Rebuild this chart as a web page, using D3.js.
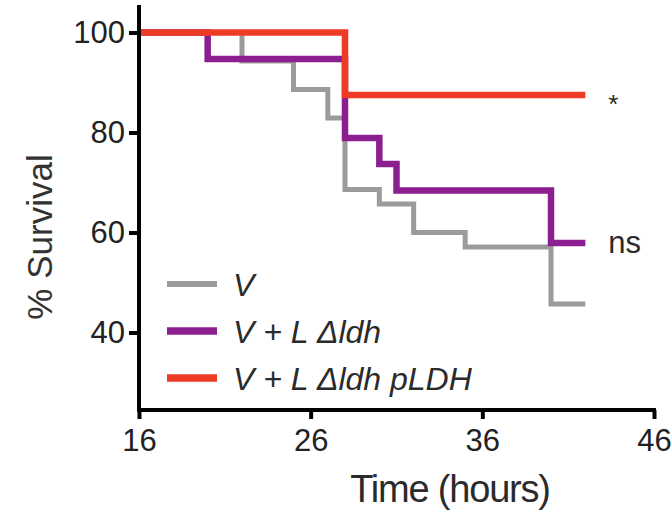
<!DOCTYPE html>
<html>
<head>
<meta charset="utf-8">
<script src="https://cdn.jsdelivr.net/npm/d3@7"></script>
<style>
  html, body { margin: 0; padding: 0; background: #fff; }
  svg { display: block; font-family: "Liberation Sans", Arial, Helvetica, sans-serif; }
</style>
</head>
<body>
<svg id="chart" width="671" height="516"></svg>
<script>
// Kaplan–Meier survival steps (time in hours, % surviving)
const timesV = [16, 22, 25, 27, 28, 30, 32, 35, 40, 42];
const survV  = [100, 94.3, 88.6, 82.9, 68.6, 65.7, 60.0, 57.1, 45.7, 45.7];

const timesVL = [16, 20, 28, 30, 31, 40, 42];
const survVL  = [100, 94.7, 78.9, 73.7, 68.4, 57.9, 57.9];

const timesVLp = [16, 28, 42];
const survVLp  = [100, 87.5, 87.5];

const seriesNames = ["V", "V + L \u0394ldh", "V + L \u0394ldh pLDH"];
const seriesColors = ["#9b9b9b", "#8c1f8f", "#ee3b24"];
const seriesWidths = [5, 6.5, 6.5];
const endLabels = ["", "ns", "*"];

const xTicks = [16, 26, 36, 46];
const yTicks = [40, 60, 80, 100];

const svg = d3.select("#chart");

const x = d3.scaleLinear().domain([16, 46]).range([139, 654]);
const y = d3.scaleLinear().domain([24.5, 105.5]).range([410, 5]);

const series = [
  { name: seriesNames[0], t: timesV, s: survV, color: seriesColors[0], w: seriesWidths[0], end: endLabels[0] },
  { name: seriesNames[1], t: timesVL, s: survVL, color: seriesColors[1], w: seriesWidths[1], end: endLabels[1] },
  { name: seriesNames[2], t: timesVLp, s: survVLp, color: seriesColors[2], w: seriesWidths[2], end: endLabels[2] }
];

const line = d3.line()
  .x(d => x(d[0]))
  .y(d => y(d[1]))
  .curve(d3.curveStepAfter);

// survival curves (red drawn last, on top)
series.forEach(sr => {
  const pts = sr.t.map((t, i) => [t, sr.s[i]]);
  svg.append("path")
    .datum(pts)
    .attr("d", line)
    .attr("fill", "none")
    .attr("stroke", sr.color)
    .attr("stroke-width", sr.w)
    .attr("stroke-linejoin", "miter")
    .attr("stroke-linecap", "butt");
});

// significance labels at the end of each curve
series.forEach(sr => {
  if (!sr.end) return;
  const lastT = sr.t[sr.t.length - 1];
  const lastS = sr.s[sr.s.length - 1];
  svg.append("text")
    .attr("x", x(lastT) + 23)
    .attr("y", y(lastS) + (sr.end === "*" ? 18 : 10))
    .attr("font-size", sr.end === "*" ? 26 : 31)
    .attr("fill", "#2b2b2b")
    .text(sr.end);
});

// axes
const xAxis = d3.axisBottom(x).tickValues(xTicks).tickSize(9).tickPadding(10).tickSizeOuter(0);
const yAxis = d3.axisLeft(y).tickValues(yTicks).tickSize(10).tickPadding(4).tickSizeOuter(0);

const gx = svg.append("g").attr("transform", `translate(0,${y.range()[0]})`).call(xAxis);
const gy = svg.append("g").attr("transform", `translate(${x.range()[0]},0)`).call(yAxis);

[gx, gy].forEach(g => {
  g.select(".domain").attr("stroke", "#000").attr("stroke-width", 4);
  g.selectAll(".tick line").attr("stroke", "#000").attr("stroke-width", 4);
  g.selectAll(".tick text")
    .attr("font-size", 31)
    .attr("fill", "#222")
    .attr("font-family", "'Liberation Sans', Arial, sans-serif");
});
gy.select(".domain").attr("d", `M0,${y.range()[1]}V${y.range()[0] + 2}`);
gx.select(".domain").attr("d", `M${x.range()[0] - 2},0H${x.range()[1] + 2}`);

// axis titles
svg.append("text")
  .attr("x", 450)
  .attr("y", 502)
  .attr("text-anchor", "middle")
  .attr("font-size", 38)
  .attr("letter-spacing", -1.2)
  .attr("fill", "#2b2b2b")
  .text("Time (hours)");

svg.append("text")
  .attr("transform", "translate(52,237) rotate(-90)")
  .attr("text-anchor", "middle")
  .attr("font-size", 35)
  .attr("fill", "#333")
  .text("% Survival");

// legend
const legend = svg.append("g");
series.forEach((sr, i) => {
  const ly = 284 + i * 47;
  legend.append("line")
    .attr("x1", 167).attr("x2", 217)
    .attr("y1", ly).attr("y2", ly)
    .attr("stroke", sr.color)
    .attr("stroke-width", sr.w + 1);
  legend.append("text")
    .attr("x", 233)
    .attr("y", ly + 12)
    .attr("font-size", 32)
    .attr("font-style", "italic")
    .attr("fill", "#2b2b2b")
    .text(sr.name);
});
</script>
</body>
</html>
